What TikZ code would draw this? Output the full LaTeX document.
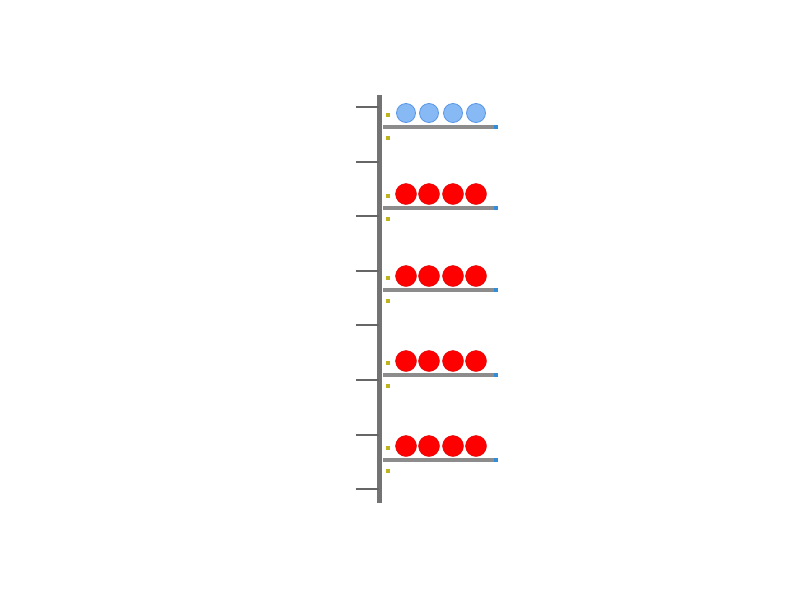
\documentclass[tikz,border=0pt]{standalone}
\definecolor{ballblue}{RGB}{135,185,245}
\definecolor{ballblueedge}{RGB}{90,150,230}
\definecolor{capblue}{RGB}{50,140,215}
\definecolor{pinyellow}{RGB}{190,180,30}
\begin{document}
\begin{tikzpicture}[x=1pt,y=-1pt,
  pole/.style={draw=black!55,line width=5pt},
  tick/.style={draw=black!60,line width=2pt},
  shelfbar/.style={draw=black!45,line width=4pt},
  endcap/.style={fill=capblue,inner sep=0pt,minimum size=4pt},
  pin/.style={fill=pinyellow,inner sep=0pt,minimum size=4pt},
  blueball/.style={circle,fill=ballblue,draw=ballblueedge,line width=0.8pt,inner sep=0pt,minimum size=19pt},
  redball/.style={circle,fill=red,draw=red!85!black,line width=0.4pt,inner sep=0pt,minimum size=21pt}]
\useasboundingbox (0,0) rectangle (800,600);
\fill[white] (0,0) rectangle (800,600);
% pole
\coordinate (ptop) at (379,95);
\coordinate (pbot) at (379,503);
\draw[pole] (ptop) -- (pbot);
% ticks
\foreach \i in {0,...,7} {
  \coordinate (t\i) at (356,107+54.6*\i);
  \coordinate (tp\i) at (379,107+54.6*\i);
  \draw[tick] (t\i) -- (tp\i);
}
% shelves
\foreach \s/\y in {1/127,2/208,3/290,4/375,5/460} {
  \coordinate (sl\s) at (383,\y);
  \node[endcap] (se\s) at (496,\y) {};
  \draw[shelfbar] (sl\s) -- (se\s.west);
  \node[pin] (pa\s) at (388,\y-12) {};
  \node[pin] (pb\s) at (388,\y+11) {};
}
% balls
\foreach \x [count=\k] in {406,429,453,476} {
  \node[blueball] (b1\k) at (\x,113) {};
}
\foreach \s/\y in {2/194,3/276,4/361,5/446} {
  \foreach \x [count=\k] in {406,429,453,476} {
    \node[redball] (b\s\k) at (\x,\y) {};
  }
}
\end{tikzpicture}
\end{document}
